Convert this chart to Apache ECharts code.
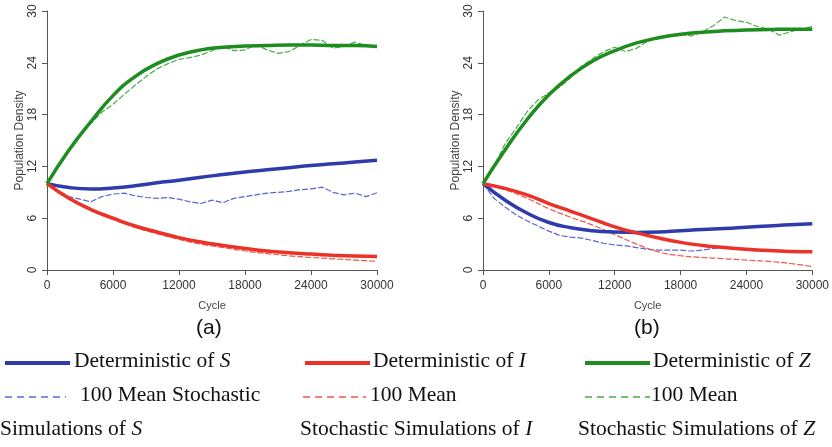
<!DOCTYPE html>
<html>
<head>
<meta charset="utf-8">
<script src="https://cdn.jsdelivr.net/npm/echarts@6/dist/echarts.min.js"></script>
<style>
html, body { margin: 0; padding: 0; background: #fff; }
#chart { width: 832px; height: 447px; }
</style>
</head>
<body>
<div id="chart"></div>
<script>
// cycles where the smooth curves (and the red stochastic means) were read
var detCycles = [0, 2000, 4000, 6000, 8000, 10000, 12000, 14000, 16000, 18000, 20000, 22000, 24000, 26000, 28000, 30000];
// cycles where the wiggly stochastic means were read
var stoCycles = [0, 1000, 2000, 3000, 4000, 5000, 6000, 7000, 8000, 9000, 10000, 11000, 12000, 13000, 14000, 15000,
  16000, 17000, 18000, 19000, 20000, 21000, 22000, 23000, 24000, 25000, 26000, 27000, 28000, 29000, 30000];

// panel (a)
var aSdet = [10, 9.55, 9.38, 9.5, 9.75, 10.1, 10.4, 10.75, 11.05, 11.35, 11.6, 11.85, 12.1, 12.3, 12.5, 12.7];
var aIdet = [10, 8.3, 7.0, 6.0, 5.1, 4.4, 3.75, 3.25, 2.85, 2.5, 2.2, 2.0, 1.85, 1.72, 1.62, 1.55];
var aZdet = [10, 13.9, 17.2, 20.2, 22.4, 23.9, 24.9, 25.5, 25.8, 25.95, 26.0, 26.05, 26.05, 26.0, 26.0, 25.9];
var aIsto = [10, 8.2, 6.9, 5.85, 4.95, 4.2, 3.55, 3.0, 2.6, 2.2, 1.9, 1.65, 1.45, 1.3, 1.15, 1.0];
var aSsto = [10, 9.2, 8.5, 8.2, 7.9, 8.5, 8.8, 8.9, 8.6, 8.4, 8.3, 8.4, 8.2, 7.9, 7.7, 8.1,
  7.8, 8.3, 8.5, 8.7, 8.9, 9.0, 9.1, 9.3, 9.4, 9.6, 9.0, 8.7, 8.9, 8.5, 8.95];
var aZsto = [10, 11.9, 13.8, 15.6, 17.0, 18.3, 19.2, 20.3, 21.4, 22.4, 23.3, 23.9, 24.4, 24.6, 24.9, 25.4,
  25.9, 25.4, 25.5, 26.1, 25.5, 25.1, 25.3, 26.0, 26.7, 26.6, 25.7, 25.9, 26.4, 26.0, 25.9];

// panel (b)
var bSdet = [10, 8.1, 6.6, 5.5, 4.9, 4.55, 4.4, 4.35, 4.4, 4.55, 4.7, 4.8, 4.95, 5.1, 5.25, 5.35];
var bIdet = [10, 9.45, 8.7, 7.7, 6.8, 5.9, 5.0, 4.3, 3.7, 3.2, 2.85, 2.6, 2.4, 2.25, 2.15, 2.1];
var bZdet = [10, 13.9, 17.4, 20.3, 22.5, 24.2, 25.4, 26.3, 26.9, 27.3, 27.55, 27.7, 27.8, 27.85, 27.9, 27.9];
var bIsto = [10, 9.3, 8.3, 7.1, 6.1, 5.2, 4.1, 3.0, 2.1, 1.65, 1.45, 1.3, 1.15, 1.0, 0.75, 0.4];
var bSsto = [10, 8.3, 7.3, 6.4, 5.7, 5.1, 4.5, 4.0, 3.8, 3.7, 3.4, 3.1, 2.9, 2.8, 2.6, 2.4,
  2.3, 2.3, 2.3, 2.2, 2.3, 2.5, 2.6, 2.5, 2.3, 2.2, 2.2, 2.3, 2.2, 2.1, 2.1];
var bZsto = [10, 12.0, 14.6, 16.4, 18.3, 19.7, 20.5, 21.2, 22.3, 23.6, 24.5, 25.3, 25.8, 25.3, 25.7, 26.5,
  26.9, 27.1, 27.3, 27.1, 27.6, 28.3, 29.3, 28.9, 28.7, 28.2, 27.9, 27.2, 27.6, 27.9, 28.2];

var blue = '#2d3caa', blueL = '#5c64d2';
var red = '#ea3228', redL = '#f0564a';
var green = '#1f8c1f', greenL = '#45ad45';

function pairs(xs, ys) {
  return xs.map(function (x, i) { return [x, ys[i]]; });
}

function detLine(idx, name, ys, color) {
  return {
    name: name, type: 'line', xAxisIndex: idx, yAxisIndex: idx,
    data: pairs(detCycles, ys), smooth: true, symbol: 'none',
    lineStyle: { color: color, width: 3.5 }, z: 3
  };
}
function stoLine(idx, name, xs, ys, color, smooth) {
  return {
    name: name, type: 'line', xAxisIndex: idx, yAxisIndex: idx,
    data: pairs(xs, ys), smooth: smooth, symbol: 'none',
    lineStyle: { color: color, width: 1.2, type: [6, 2] }, z: 2
  };
}

function xAx(idx) {
  return {
    type: 'value', gridIndex: idx, min: 0, max: 30000, interval: 6000,
    name: 'Cycle', nameLocation: 'middle', nameGap: 30,
    nameTextStyle: { fontSize: 11, color: '#444', fontFamily: 'Liberation Sans' },
    axisLine: { lineStyle: { color: '#555', width: 1 } },
    axisTick: { length: 5, lineStyle: { color: '#555' } },
    axisLabel: { fontSize: 12, color: '#333', margin: 10, fontFamily: 'Liberation Sans',
      formatter: function (v) { return String(v); } },
    splitLine: { show: false }
  };
}
function yAx(idx) {
  return {
    type: 'value', gridIndex: idx, min: 0, max: 30, interval: 6,
    name: 'Population Density', nameLocation: 'middle', nameGap: 20, nameRotate: 90,
    nameTextStyle: { fontSize: 12, color: '#444', fontFamily: 'Liberation Sans' },
    axisLine: { show: true, lineStyle: { color: '#555', width: 1 } },
    axisTick: { show: true, length: 5, lineStyle: { color: '#555' } },
    axisLabel: { fontSize: 12, color: '#333', rotate: 90, margin: 8, fontFamily: 'Liberation Sans' },
    splitLine: { show: false }
  };
}

var serif = 'Liberation Serif';
var rich = {
  n: { fontFamily: serif, fontSize: 21.5, color: '#111' },
  i: { fontFamily: serif, fontSize: 21.5, fontStyle: 'italic', color: '#111' }
};
function legText(x, y, txt) {
  return { type: 'text', left: x, top: y, style: { text: txt, rich: rich, fill: '#111', font: '21.5px ' + serif } };
}
function legLine(x1, x2, y, color, w, dash) {
  return { type: 'line', shape: { x1: x1, y1: y, x2: x2, y2: y },
    style: { stroke: color, lineWidth: w, lineDash: dash || null } };
}

var chart = echarts.init(document.getElementById('chart'));
chart.setOption({
  animation: false,
  backgroundColor: '#fff',
  grid: [
    { left: 47, top: 11, width: 330, height: 259 },
    { left: 483, top: 11, width: 330, height: 259 }
  ],
  xAxis: [xAx(0), xAx(1)],
  yAxis: [yAx(0), yAx(1)],
  series: [
    stoLine(0, 'Stochastic S', stoCycles, aSsto, blueL, false),
    stoLine(0, 'Stochastic I', detCycles, aIsto, redL, true),
    stoLine(0, 'Stochastic Z', stoCycles, aZsto, greenL, false),
    detLine(0, 'Deterministic S', aSdet, blue),
    detLine(0, 'Deterministic I', aIdet, red),
    detLine(0, 'Deterministic Z', aZdet, green),
    stoLine(1, 'Stochastic S', stoCycles, bSsto, blueL, false),
    stoLine(1, 'Stochastic I', detCycles, bIsto, redL, true),
    stoLine(1, 'Stochastic Z', stoCycles, bZsto, greenL, false),
    detLine(1, 'Deterministic S', bSdet, blue),
    detLine(1, 'Deterministic I', bIdet, red),
    detLine(1, 'Deterministic Z', bZdet, green)
  ],
  graphic: [
    { type: 'text', left: 196, top: 318, style: { text: '(a)', font: '21px Liberation Sans', fill: '#111' } },
    { type: 'text', left: 634, top: 318, style: { text: '(b)', font: '21px Liberation Sans', fill: '#111' } },

    legLine(5, 70, 363, blue, 4),
    legText(74, 350, '{n|Deterministic of }{i|S}'),
    legLine(305, 370, 363, red, 4),
    legText(373, 350, '{n|Deterministic of }{i|I}'),
    legLine(585, 650, 363, green, 4),
    legText(653, 350, '{n|Deterministic of }{i|Z}'),

    legLine(5, 66, 397, blueL, 1.5, [7, 5]),
    legText(80, 384, '{n|100 Mean Stochastic}'),
    legLine(303, 366, 397, redL, 1.5, [7, 5]),
    legText(370, 384, '{n|100 Mean}'),
    legLine(585, 650, 397, greenL, 1.5, [7, 5]),
    legText(651, 384, '{n|100 Mean}'),

    legText(0, 418, '{n|Simulations of }{i|S}'),
    legText(300, 418, '{n|Stochastic Simulations of }{i|I}'),
    legText(578, 418, '{n|Stochastic Simulations of }{i|Z}')
  ]
});
</script>
</body>
</html>
